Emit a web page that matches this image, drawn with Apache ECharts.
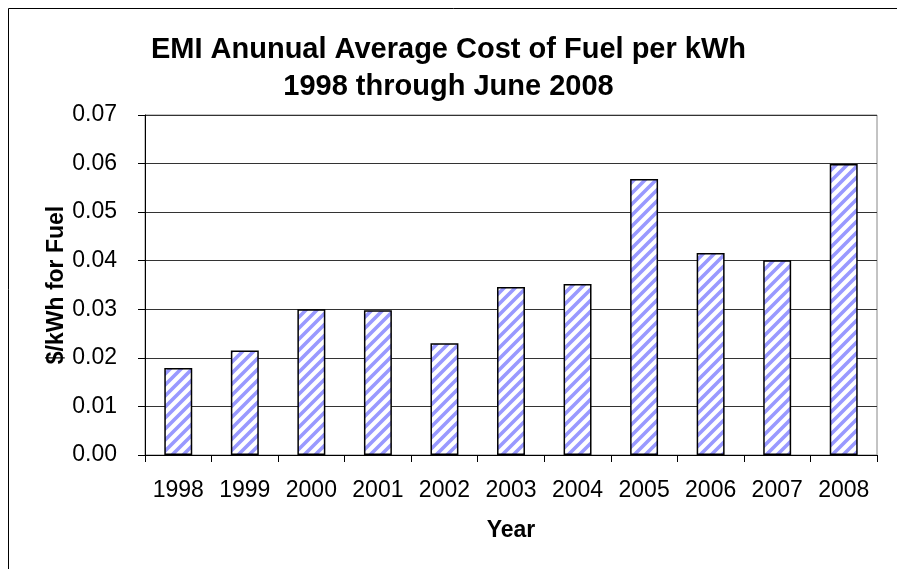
<!DOCTYPE html>
<html>
<head>
<meta charset="utf-8">
<script src="https://cdn.jsdelivr.net/npm/echarts@6/dist/echarts.min.js"></script>
<style>
  html, body { margin: 0; padding: 0; background: #fff; }
  #main { width: 897px; height: 569px; }
</style>
</head>
<body>
<div id="main"></div>
<script>
var years = ['1998', '1999', '2000', '2001', '2002', '2003', '2004', '2005', '2006', '2007', '2008'];
var fuelCost = [0.0179, 0.0215, 0.0300, 0.0298, 0.0230, 0.0346, 0.0352, 0.0568, 0.0416, 0.0401, 0.0599];

// diagonal hatch like the excel fill
function makeHatch() {
  var c = document.createElement('canvas');
  var s = 11;
  c.width = s;
  c.height = s;
  var ctx = c.getContext('2d');
  ctx.fillStyle = '#ffffff';
  ctx.fillRect(0, 0, s, s);
  ctx.strokeStyle = '#9999ff';
  ctx.lineWidth = 3.6;
  ctx.beginPath();
  ctx.moveTo(-s / 2, s / 2); ctx.lineTo(s / 2, -s / 2);
  ctx.moveTo(0, s); ctx.lineTo(s, 0);
  ctx.moveTo(s / 2, s * 1.5); ctx.lineTo(s * 1.5, s / 2);
  ctx.stroke();
  return c;
}

var chart = echarts.init(document.getElementById('main'));
var font = 'Liberation Sans, Arial, sans-serif';

chart.setOption({
  animation: false,
  textStyle: { fontFamily: font },
  title: {
    text: 'EMI Anunual Average Cost of Fuel per kWh\n1998 through June 2008',
    left: 'center',
    top: 26,
    textStyle: {
      fontFamily: font,
      fontSize: 29,
      fontWeight: 'bold',
      color: '#000',
      lineHeight: 37
    }
  },
  graphic: [{
    type: 'rect',
    shape: { x: 8.5, y: 8.5, width: 920, height: 600 },
    style: { fill: null, stroke: '#000', lineWidth: 1 }
  }],
  grid: {
    left: 145,
    right: 20,
    top: 115,
    bottom: 114,
    show: true,
    borderColor: '#888',
    borderWidth: 1
  },
  xAxis: {
    type: 'category',
    data: years,
    name: 'Year',
    nameLocation: 'middle',
    nameGap: 64,
    nameTextStyle: { fontFamily: font, fontSize: 23, fontWeight: 'bold', color: '#000' },
    axisLine: { lineStyle: { color: '#000', width: 1 } },
    axisTick: { show: true, length: 7, alignWithLabel: false, lineStyle: { color: '#000' } },
    axisLabel: { fontFamily: font, fontSize: 23, color: '#000', margin: 24 }
  },
  yAxis: {
    type: 'value',
    min: 0,
    max: 0.07,
    interval: 0.01,
    name: '$/kWh for Fuel',
    nameLocation: 'middle',
    nameGap: 77,
    nameMoveOverlap: false,
    nameTextStyle: { fontFamily: font, fontSize: 23, fontWeight: 'bold', color: '#000' },
    axisLine: { show: true, lineStyle: { color: '#000', width: 1 } },
    axisTick: { show: true, length: 7, lineStyle: { color: '#000' } },
    axisLabel: {
      fontFamily: font,
      fontSize: 23,
      color: '#000',
      margin: 28,
      formatter: function (v) { return v.toFixed(2); }
    },
    splitLine: { show: true, lineStyle: { color: '#333', width: 1 } }
  },
  series: [{
    type: 'bar',
    data: fuelCost,
    barWidth: '42%',
    itemStyle: {
      color: { image: makeHatch(), repeat: 'repeat' },
      borderColor: '#000',
      borderWidth: 1.5
    }
  }]
});
</script>
</body>
</html>
